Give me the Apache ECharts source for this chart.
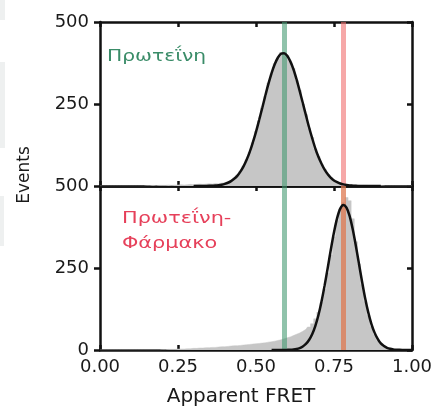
<!DOCTYPE html>
<html><head><meta charset="utf-8">
<script src="https://cdn.jsdelivr.net/npm/echarts@6/dist/echarts.min.js"></script>
<style>html,body{margin:0;padding:0;background:#fff}#c{width:438px;height:408px}</style>
</head><body><div id="c"></div><script>
// ---- data ----
const binWidth = 0.01; // histogram bins centred at 0.00, 0.01, ... 1.00
const topHist = [
  0,0,0,0,0,0,0,0,0,0,0,0,0,0,0,
  1,1,2,1,2,2,2,3,2,3,
  3,4,3,4,5,4,5,6,5,6,
  7,6,8,7,9,10,12,17,24,33,
  45,61,80,103,132,166,198,240,273,314,
  342,373,388,407,402,398,377,358,322,292,
  250,218,176,148,113,90,66,51,35,26,
  17,12,8,6,4,4,3,3,2,2,
  2,1,1,1,1,1,0,0,0,0,
  0,0,0,0,0,0
];
const bottomHist = [
  0,0,0,0,0,0,0,0,0,0,0,0,0,0,0,0,0,0,0,0,
  1,1,2,2,2,3,3,3,4,4,
  5,5,6,6,7,7,8,8,9,10,
  10,11,12,13,13,14,15,16,17,18,
  19,20,21,22,24,25,27,29,31,34,
  37,40,44,48,52,57,63,70,80,95,
  115,145,185,235,290,345,395,430,450,465,
  455,400,330,262,200,148,105,72,48,30,
  18,11,6,4,2,1,0,0,0,0,
  0
];
const fitStep = 0.01;
const topFitStart = 0.30;
const topFit = [
  0,0,0.1,0.2,0.3,
  0.5,1,1.5,2.5,4.1,6.5,9.9,14.9,21.9,31,
  44,60,80,104,133,165,201,238,276,312,
  344,371,391,403,405,397,380,356,325,290,
  253,216,179,146,115,89,68,50,36,25,
  17,11.7,7.7,4.9,3.1,1.8,1.1,0.5,0.3,0.1,
  0,0,0,0,0,0
];
const bottomFitStart = 0.55;
const bottomFit = [
  0,0,0,0.1,0.2,0.4,0.8,
  1.6,3.1,5.9,10.7,18.4,30.5,48,73,106,148,
  197,251,307,359,402,431,442,434,409,368,
  318,263,208,157,114,79,53,34,20,12,
  6.7,3.6,1.8,0.9,0.4,0.2,0.1,0,0
];
const proteinFRET = [0.587];
const complexFRET = [0.78];
const xRange = [0, 1, 0.25];
const yRange = [0, 500, 250];
const labelProtein = 'Πρωτεΐνη';
const labelComplex = 'Πρωτεΐνη-\nΦάρμακο';
const yName = 'Events';
const xName = 'Apparent FRET';

// ---- build ----
const FONT = '"DejaVu Sans", sans-serif';
const r2 = v => Math.round(v * 100) / 100;
const histPairs = arr => arr.map((v, i) => [r2(i * binWidth), v]);
const fitPairs = (start, arr) => arr.map((v, i) => [r2(start + i * fitStep), v]);

const G = [{left:100, top:22, width:312, height:164}, {left:100, top:186, width:312, height:164}];
const black = '#111';
function xAx(gi, pos, showLabel, name) {
  const a = {type:'value', gridIndex:gi, position:pos, min:xRange[0], max:xRange[1], interval:xRange[2],
    axisLine:{show:true, onZero:false, lineStyle:{color:black, width:2.5}},
    axisTick:{show:true, inside:true, length:5, lineStyle:{color:black, width:2.5}},
    axisLabel:{show:showLabel, margin:8, color:'#1a1a1a', fontSize:18, fontFamily:FONT, formatter:v=>v.toFixed(2)},
    splitLine:{show:false}};
  if (name) {
    a.name = name; a.nameLocation = 'middle'; a.nameGap = 37;
    a.nameTextStyle = {fontSize:20, fontFamily:FONT, color:'#1a1a1a', padding:[0,30,0,0]};
  }
  return a;
}
function yAx(gi, pos, showLabel, showMin) {
  return {type:'value', gridIndex:gi, position:pos, min:yRange[0], max:yRange[1], interval:yRange[2],
    axisLine:{show:true, onZero:false, lineStyle:{color:black, width:2.5}},
    axisTick:{show:true, inside:pos==='right', length:pos==='right'?5:6, lineStyle:{color:black, width:2.5}},
    axisLabel:{show:showLabel, showMinLabel:showMin, margin:11, color:'#1a1a1a', fontSize:18, fontFamily:FONT},
    splitLine:{show:false}};
}
function vline(xi, yi, x, color) {
  return {type:'line', xAxisIndex:xi, yAxisIndex:yi, data:[], z:3, silent:true,
    markLine:{silent:true, symbol:['none','none'], animation:false, label:{show:false},
      lineStyle:{color:color, width:5, type:'solid', opacity:1}, data:[{xAxis:x}]}};
}
function hist(xi, yi, arr) {
  return {type:'line', xAxisIndex:xi, yAxisIndex:yi, data:histPairs(arr), step:'middle', showSymbol:false,
    symbol:'none', z:2, lineStyle:{width:0.5, color:'#c6c6c6'}, areaStyle:{color:'#c6c6c6', opacity:1}};
}
function fit(xi, yi, start, arr) {
  return {type:'line', xAxisIndex:xi, yAxisIndex:yi, data:fitPairs(start, arr), smooth:0.3, showSymbol:false,
    symbol:'none', z:5, lineStyle:{width:2.5, color:'#111'}};
}
const greenCol = 'rgba(70,155,115,0.6)';
const redTop = 'rgba(240,110,110,0.6)';
const redBot = 'rgba(222,120,80,0.75)';

const chart = echarts.init(document.getElementById('c'), null, {renderer:'canvas'});
chart.setOption({
  animation:false,
  backgroundColor:'#fff',
  grid:G,
  xAxis:[xAx(0,'bottom',false), xAx(0,'top',false), xAx(1,'bottom',true,xName), xAx(1,'top',false)],
  yAxis:[yAx(0,'left',true,false), yAx(0,'right',false,true), yAx(1,'left',true,true), yAx(1,'right',false,true)],
  series:[
    hist(0,0,topHist), vline(0,0,proteinFRET[0],greenCol), vline(0,0,complexFRET[0],redTop), fit(0,0,topFitStart,topFit),
    hist(2,2,bottomHist), vline(2,2,proteinFRET[0],greenCol), vline(2,2,complexFRET[0],redBot), fit(2,2,bottomFitStart,bottomFit)
  ],
  graphic:[
    {type:'rect', shape:{x:0,y:0,width:5,height:20}, style:{fill:'#eef0f0'}, z:-1},
    {type:'rect', shape:{x:0,y:62,width:5,height:86}, style:{fill:'#eef0f0'}, z:-1},
    {type:'rect', shape:{x:0,y:196,width:4,height:50}, style:{fill:'#eef0f0'}, z:-1},
    {type:'text', x:107, y:50, scaleX:1.35, style:{text:labelProtein, fill:'#3a8c68', font:'15px "DejaVu Sans"', verticalAlign:'top'}},
    {type:'text', x:122, y:206, scaleX:1.3, style:{text:labelComplex, fill:'#e6405a', font:'16px "DejaVu Sans"', lineHeight:25, verticalAlign:'top'}},
    {type:'text', x:25, y:175, rotation:Math.PI/2, style:{text:yName, fill:'#1a1a1a', font:'17px "DejaVu Sans"', align:'center', verticalAlign:'middle'}}
  ]
});
</script></body></html>
